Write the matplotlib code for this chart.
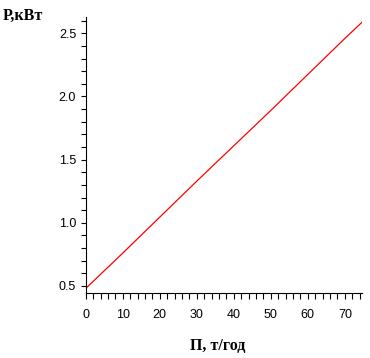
import matplotlib
matplotlib.use("Agg")
import matplotlib.pyplot as plt
from matplotlib.ticker import MultipleLocator, FormatStrFormatter

# Data
prod = [0, 10, 20, 30, 40, 50, 60, 70, 74.7]          # П, т/год
power = [0.48, 0.76, 1.045, 1.33, 1.61, 1.89, 2.175, 2.46, 2.59]  # P, кВт
xlabel = "П, т/год"
ylabel = "P,кВт"

fig = plt.figure(figsize=(3.70, 3.58), dpi=100)
ax = fig.add_axes([85.7/370, 1-293.3/358, (362.3-85.7)/370, (293.3-17.3)/358])

ax.plot(prod, power, color="red", lw=0.9)

ax.set_xlim(0, 74.7)
ax.set_ylim(0.442, 2.627)

ax.xaxis.set_major_locator(MultipleLocator(10))
ax.xaxis.set_minor_locator(MultipleLocator(2))
ax.yaxis.set_major_locator(MultipleLocator(0.5))
ax.yaxis.set_minor_locator(MultipleLocator(0.1))
ax.yaxis.set_major_formatter(FormatStrFormatter("%.1f"))

for s in ["top", "right"]:
    ax.spines[s].set_visible(False)
for s in ["left", "bottom"]:
    ax.spines[s].set_linewidth(0.8)
    ax.spines[s].set_color("black")

tickfont = "Liberation Sans"
ax.tick_params(axis="x", which="both", direction="out", length=4.5, width=0.8, pad=7,
               labelsize=9, colors="black")
ax.tick_params(axis="y", which="both", direction="out", length=3.7, width=0.8, pad=3.2,
               labelsize=9, colors="black")
for lab in ax.get_xticklabels() + ax.get_yticklabels():
    lab.set_fontfamily(tickfont)

fig.text(218/370, 1-346/358, xlabel, ha="center", va="center",
         fontsize=11.5, fontweight="bold", family="Liberation Serif")
fig.text(2.5/370, 1-16/358, ylabel, ha="left", va="center",
         fontsize=11.5, fontweight="bold", family="Liberation Serif")

fig.savefig("out.png", dpi=100)
